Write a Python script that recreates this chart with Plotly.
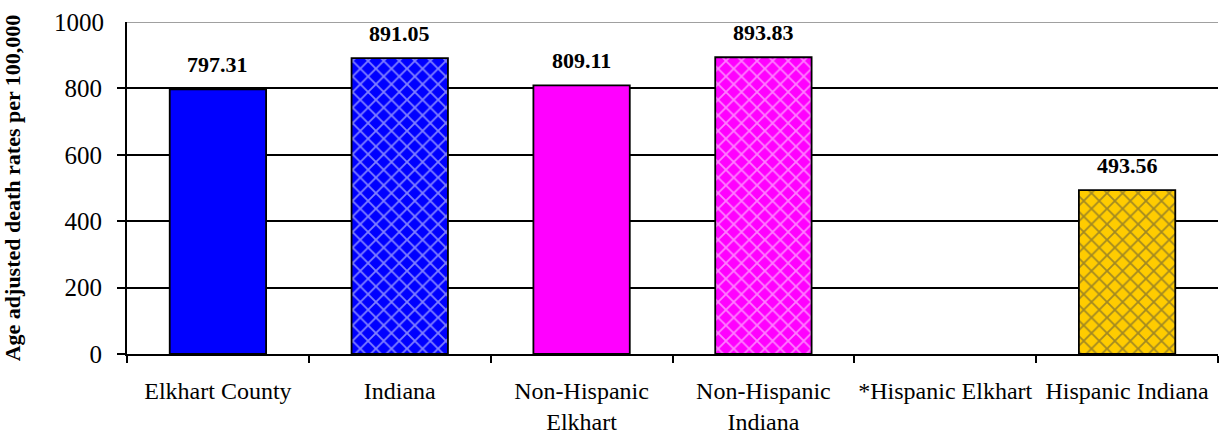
import plotly.graph_objects as go

categories = ["Elkhart County", "Indiana", "Non-Hispanic<br>Elkhart", "Non-Hispanic<br>Indiana",
              "*Hispanic Elkhart", "Hispanic Indiana"]
rates = [797.31, 891.05, 809.11, 893.83, None, 493.56]
fill_colors = ["#0000FF", "#0000FF", "#FF00FF", "#FF00FF", "#FFFFFF", "#FFCC00"]
pattern_shapes = ["", "x", "", "x", "", "x"]
pattern_colors = ["#FFFFFF", "#B4B4FF", "#FFFFFF", "#FFB4FF", "#FFFFFF", "#3030C0"]
tick_values = [0, 200, 400, 600, 800, 1000]

fig = go.Figure()
fig.add_trace(go.Bar(
    x=categories,
    y=rates,
    width=0.53,
    marker=dict(
        color=fill_colors,
        line=dict(color="black", width=1.8),
        pattern=dict(shape=pattern_shapes, fgcolor=pattern_colors,
                     size=11, solidity=0.3, fillmode="overlay"),
    ),
    showlegend=False,
    hoverinfo="x+y",
))

# value labels above each bar
for cat, val in zip(categories, rates):
    if val is None:
        continue
    fig.add_annotation(
        x=cat, y=val, text=f"<b>{val:.2f}</b>",
        showarrow=False, yanchor="bottom", yshift=10,
        font=dict(family="Liberation Serif", size=22, color="black"),
    )

# top border line of the plot area
fig.add_shape(type="line", xref="paper", x0=0, x1=1, yref="y",
              y0=tick_values[-1], y1=tick_values[-1],
              line=dict(color="#808080", width=1.5), layer="below")

fig.update_layout(
    width=1220, height=434,
    margin=dict(l=127, r=2, t=22, b=80),
    plot_bgcolor="white", paper_bgcolor="white",
    font=dict(family="Liberation Serif", size=22, color="black"),
)
fig.update_yaxes(
    range=[0, 1000],
    tickvals=tick_values[:-1],
    automargin=False,
    showgrid=True, gridcolor="black", gridwidth=1.5,
    showline=True, linecolor="black", linewidth=2,
    ticks="outside", ticklen=8, tickcolor="black", tickwidth=2,
    ticklabelstandoff=10,
    zeroline=False,
    tickfont=dict(family="Liberation Serif", size=25),
    title=dict(text="<b>Age adjusted death rates per 100,000</b>",
               font=dict(family="Liberation Serif", size=22), standoff=40),
)
# label for the top value, sitting at the top border
fig.add_annotation(xref="paper", x=0, xanchor="right", xshift=-21,
                   yref="y", y=tick_values[-1], text=str(tick_values[-1]),
                   showarrow=False, font=dict(family="Liberation Serif", size=25))
fig.update_xaxes(
    automargin=False,
    tickangle=0,
    showline=True, linecolor="black", linewidth=2,
    ticks="outside", tickson="boundaries", ticklen=7, tickcolor="black", tickwidth=2,
    ticklabelstandoff=14,
    tickfont=dict(family="Liberation Serif", size=24),
)

fig.write_html("out.html")
